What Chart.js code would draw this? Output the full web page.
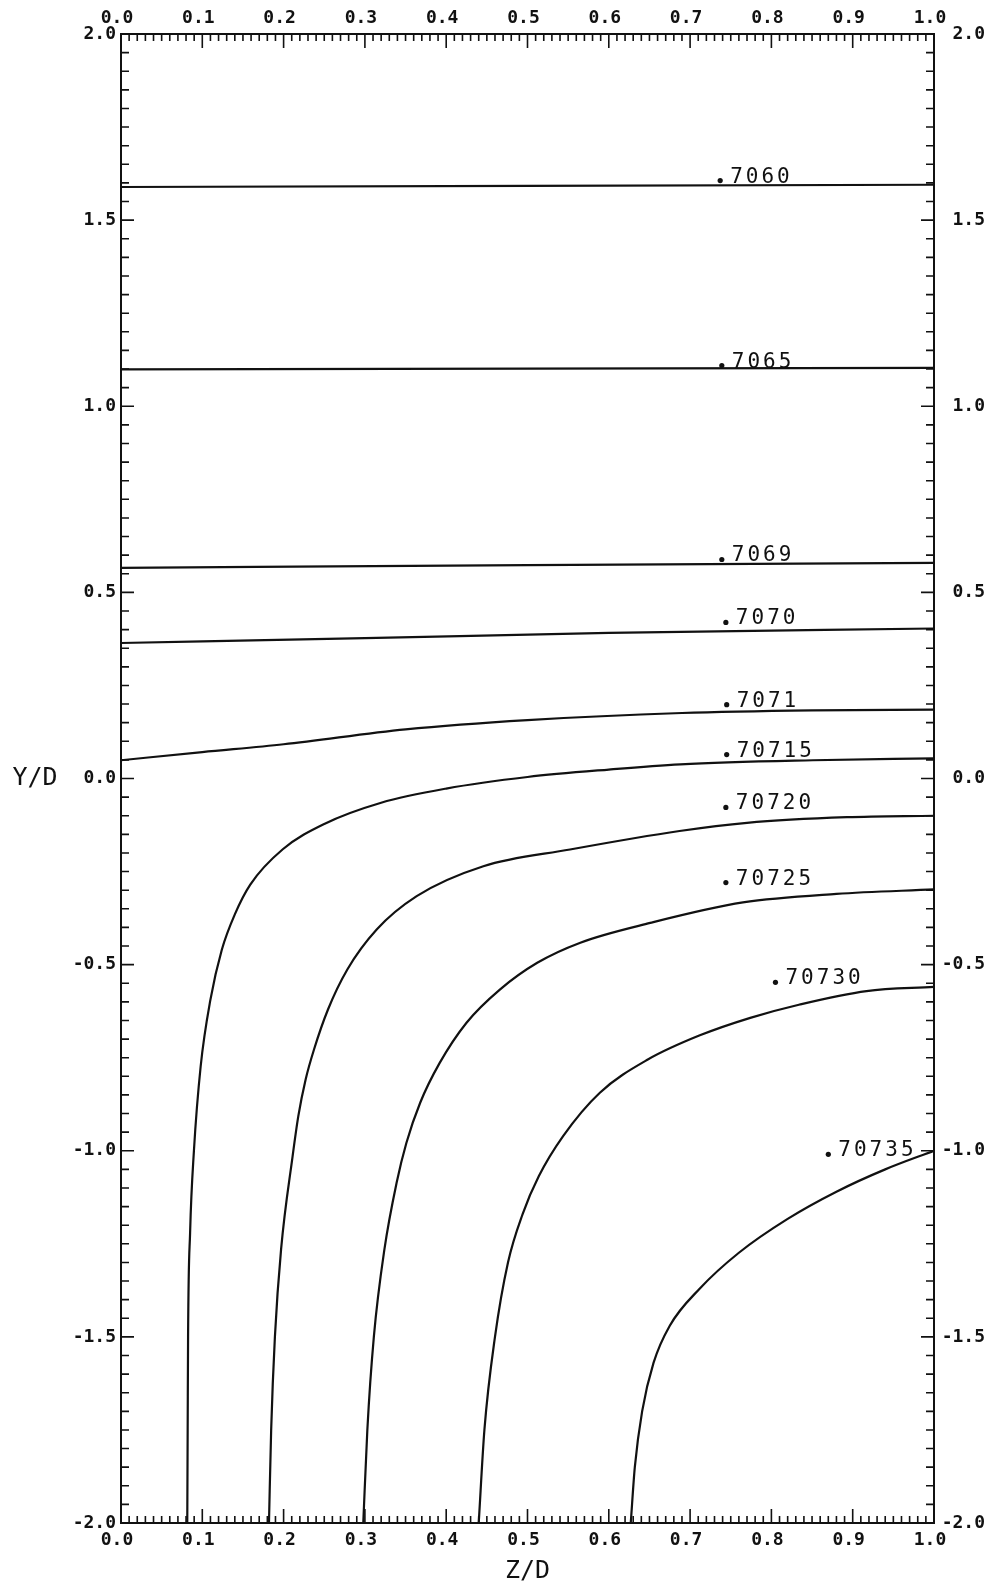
<!DOCTYPE html>
<html>
<head>
<meta charset="utf-8">
<script src="https://cdn.jsdelivr.net/npm/chart.js@4.4.0/dist/chart.umd.min.js"></script>
<style>
  html, body { margin: 0; padding: 0; background: #ffffff; }
  #wrap { width: 991px; height: 1589px; }
</style>
</head>
<body>
<div id="wrap"><canvas id="isoChart" width="991" height="1589"></canvas></div>
<script>
// valeurs des axes
const zTicks = [0.0, 0.1, 0.2, 0.3, 0.4, 0.5, 0.6, 0.7, 0.8, 0.9, 1.0];
const yTicks = [-2.0, -1.5, -1.0, -0.5, 0.0, 0.5, 1.0, 1.5, 2.0];

// isolignes : [Z/D, Y/D]
const c7060 = [[0, 1.589], [0.5, 1.592], [1, 1.595]];
const c7065 = [[0, 1.099], [0.5, 1.101], [1, 1.103]];
const c7069 = [[0, 0.566], [0.5, 0.573], [1, 0.579]];
const c7070 = [[0, 0.364], [0.3, 0.377], [0.6, 0.391], [1, 0.403]];
const c7071 = [[0, 0.049], [0.1, 0.071], [0.2, 0.092], [0.35, 0.132], [0.5, 0.157], [0.69, 0.176], [0.85, 0.183], [1, 0.185]];
const c70715 = [[0.0815, -2.0], [0.082, -1.75], [0.0825, -1.5], [0.085, -1.22], [0.0897, -1.0], [0.098, -0.773],
  [0.11, -0.594], [0.124, -0.46], [0.14, -0.365], [0.159, -0.285], [0.199, -0.19], [0.25, -0.122],
  [0.32, -0.065], [0.4, -0.027], [0.5, 0.004], [0.6, 0.024], [0.688, 0.038], [0.851, 0.049], [1.0, 0.054]];
const c70720 = [[0.182, -2.0], [0.1847, -1.75], [0.1893, -1.5], [0.1969, -1.265], [0.2111, -1.0145], [0.2181, -0.907],
  [0.2271, -0.8085], [0.2374, -0.728], [0.2546, -0.6205], [0.2784, -0.513], [0.3145, -0.4056], [0.3637, -0.316],
  [0.4457, -0.2356], [0.5523, -0.1907], [0.687, -0.141], [0.77, -0.119], [0.893, -0.104], [1.0, -0.10]];
const c70725 = [[0.298, -2.0], [0.303, -1.75], [0.311, -1.5], [0.324, -1.265], [0.339, -1.086], [0.351, -0.979],
  [0.368, -0.871], [0.392, -0.764], [0.425, -0.656], [0.466, -0.567], [0.512, -0.495], [0.565, -0.441],
  [0.651, -0.388], [0.765, -0.333], [0.88, -0.31], [1.0, -0.298]];
const c70730 = [[0.44, -2.0], [0.447, -1.75], [0.46, -1.5], [0.476, -1.3], [0.494, -1.17], [0.514, -1.068],
  [0.544, -0.96], [0.589, -0.844], [0.648, -0.755], [0.712, -0.69], [0.774, -0.643], [0.835, -0.607],
  [0.917, -0.571], [1.0, -0.56]];
const c70735 = [[0.627, -2.0], [0.632, -1.85], [0.641, -1.7], [0.655, -1.57], [0.675, -1.47], [0.712, -1.37],
  [0.76, -1.274], [0.82, -1.183], [0.88, -1.11], [0.94, -1.05], [1.0, -1.0]];

const contours = [c7060, c7065, c7069, c7070, c7071, c70715, c70720, c70725, c70730, c70735];

// étiquettes des isolignes : texte, Z/D du point, Y/D de la ligne de base
const labelText = ['7060', '7065', '7069', '7070', '7071', '70715', '70720', '70725', '70730', '70735'];
const labelZ = [0.737, 0.739, 0.739, 0.744, 0.745, 0.745, 0.744, 0.744, 0.805, 0.87];
const labelY = [1.601, 1.104, 0.583, 0.414, 0.193, 0.059, -0.083, -0.285, -0.553, -1.015];

const ink = '#111111';
const tickFont = { family: 'DejaVu Sans Mono', size: 18, weight: 'bold' };
const fmt = v => Number(v).toFixed(1);

// graduations intérieures sur les quatre côtés
const tickMarks = {
  id: 'tickMarks',
  afterDraw(chart) {
    const { ctx, chartArea: a, scales } = chart;
    ctx.save();
    ctx.strokeStyle = ink;
    ctx.lineWidth = 1.6;
    ctx.beginPath();
    for (let i = 0; i <= 100; i++) {
      const px = scales.x.getPixelForValue(i / 100);
      const len = i % 10 === 0 ? 14 : 7;
      ctx.moveTo(px, a.top); ctx.lineTo(px, a.top + len);
      ctx.moveTo(px, a.bottom); ctx.lineTo(px, a.bottom - len);
    }
    for (let i = 0; i <= 80; i++) {
      const py = scales.y.getPixelForValue(-2 + i * 0.05);
      const len = i % 10 === 0 ? 13 : 8;
      ctx.moveTo(a.left, py); ctx.lineTo(a.left + len, py);
      ctx.moveTo(a.right, py); ctx.lineTo(a.right - len, py);
    }
    ctx.stroke();
    ctx.restore();
  }
};

// étiquettes des courbes (point gras + chiffres) et titre Y/D
const contourLabels = {
  id: 'contourLabels',
  afterDatasetsDraw(chart) {
    const { ctx, scales } = chart;
    ctx.save();
    ctx.fillStyle = ink;
    ctx.font = '21px "DejaVu Sans Mono"';
    ctx.textAlign = 'left';
    ctx.textBaseline = 'alphabetic';
    ctx.letterSpacing = '3px';
    labelText.forEach((t, i) => {
      const px = scales.x.getPixelForValue(labelZ[i]);
      const py = scales.y.getPixelForValue(labelY[i]);
      ctx.beginPath();
      ctx.arc(px, py - 2, 2.6, 0, Math.PI * 2);
      ctx.fill();
      ctx.fillText(t, px + 10, py);
    });
    ctx.letterSpacing = '0px';
    ctx.font = '25px "DejaVu Sans Mono"';
    ctx.textAlign = 'center';
    ctx.textBaseline = 'middle';
    ctx.fillText('Y/D', 35, scales.y.getPixelForValue(0));
    ctx.restore();
  }
};

function axis(position, extra) {
  const horizontal = position === 'top' || position === 'bottom';
  const values = horizontal ? zTicks : yTicks;
  return Object.assign({
    type: 'linear',
    position: position,
    min: horizontal ? 0 : -2,
    max: horizontal ? 1 : 2,
    afterBuildTicks: s => { s.ticks = values.map(v => ({ value: v })); },
    ticks: { callback: fmt, font: tickFont, color: ink, autoSkip: false, maxRotation: 0, labelOffset: horizontal ? -4 : 0 },
    grid: { display: false, drawTicks: false },
    border: { display: true, color: ink, width: 2 }
  }, extra);
}

const scaleX = axis('bottom', {
  title: { display: true, text: 'Z/D', color: ink, font: { family: 'DejaVu Sans Mono', size: 25 }, padding: { top: 0, bottom: 3 } },
  afterFit: s => { s.height = 66; }
});
scaleX.ticks.padding = 7;
const scaleX2 = axis('top', { afterFit: s => { s.height = 34; } });
scaleX2.ticks.padding = 5;
const scaleY = axis('left', { afterFit: s => { s.width = 121; } });
scaleY.ticks.padding = 5;
const scaleY2 = axis('right', { afterFit: s => { s.width = 51; } });
scaleY2.ticks.crossAlign = 'far';

new Chart(document.getElementById('isoChart'), {
  type: 'scatter',
  data: {
    datasets: contours.map(c => ({
      data: c.map(p => ({ x: p[0], y: p[1] })),
      showLine: true,
      borderColor: ink,
      borderWidth: 2.2,
      pointRadius: 0,
      cubicInterpolationMode: 'monotone',
      fill: false
    }))
  },
  options: {
    responsive: false,
    animation: false,
    layout: { padding: { top: 0, right: 6, bottom: 0, left: 0 } },
    plugins: { legend: { display: false }, tooltip: { enabled: false } },
    scales: { x: scaleX, x2: scaleX2, y: scaleY, y2: scaleY2 }
  },
  plugins: [tickMarks, contourLabels]
});
</script>
</body>
</html>
